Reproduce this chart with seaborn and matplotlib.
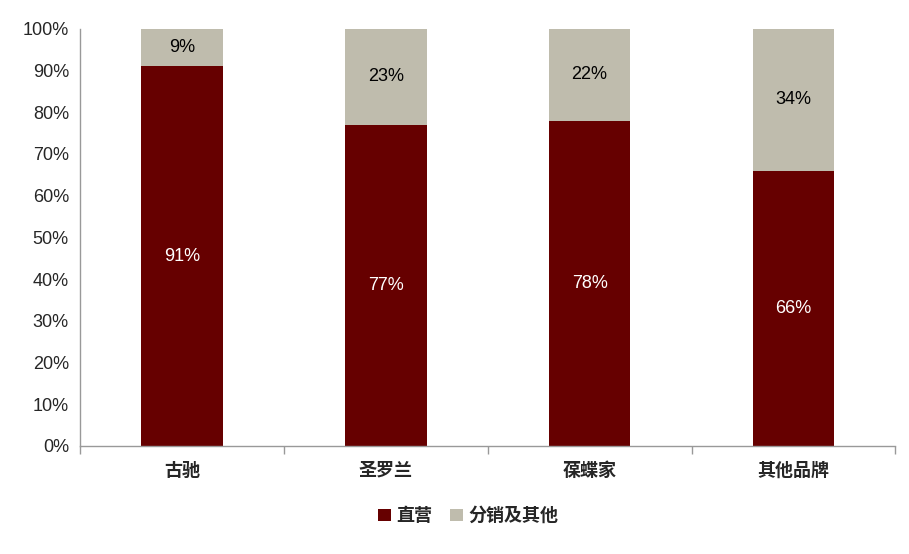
import pandas as pd
import seaborn as sns
import matplotlib.pyplot as plt

brands = ["古驰", "圣罗兰", "葆蝶家", "其他品牌"]
direct = [91, 77, 78, 66]
other = [9, 23, 22, 34]
series_names = ["直营", "分销及其他"]

RED = "#660000"
GRAY = "#BFBCAD"

sns.set_theme(style="white")
plt.rcParams["font.family"] = ["Liberation Sans", "Noto Sans CJK SC", "DejaVu Sans"]

df = pd.DataFrame({"brand": brands, "direct": direct, "other": other})
df["total"] = df["direct"] + df["other"]

fig = plt.figure(figsize=(9.09, 5.54), dpi=100)
ax = fig.add_axes([0.088, 0.195, 0.897, 0.753])

sns.barplot(data=df, x="brand", y="total", color=GRAY, width=0.4,
            saturation=1, ax=ax, label=series_names[1], linewidth=0)
sns.barplot(data=df, x="brand", y="direct", color=RED, width=0.4,
            saturation=1, ax=ax, label=series_names[0], linewidth=0)
handles, labels = ax.get_legend_handles_labels()
if ax.get_legend() is not None:
    ax.get_legend().remove()

for i, row in df.iterrows():
    ax.text(i, row["direct"] / 2, f"{row['direct']}%", ha="center", va="center",
            color="white", fontsize=13)
    ax.text(i, row["direct"] + row["other"] / 2, f"{row['other']}%", ha="center",
            va="center", color="black", fontsize=13)

ax.set_ylim(0, 100)
ax.set_xlim(-0.5, 3.5)
ax.set_yticks(range(0, 101, 10))
ax.set_yticklabels([f"{v}%" for v in range(0, 101, 10)], fontsize=13)
ax.set_xticks(range(len(brands)))
ax.set_xticklabels(brands, fontsize=13, fontweight="bold")
ax.set_xticks([-0.5, 0.5, 1.5, 2.5, 3.5], minor=True)
ax.tick_params(axis="x", which="major", length=0, pad=12)
ax.tick_params(axis="x", which="minor", length=6, color="#999999", direction="out", bottom=True)
ax.tick_params(axis="y", length=0, pad=8)
ax.set_xlabel("")
ax.set_ylabel("")

for side in ["top", "right"]:
    ax.spines[side].set_visible(False)
for side in ["left", "bottom"]:
    ax.spines[side].set_color("#999999")
    ax.spines[side].set_linewidth(1)

order = [labels.index(n) for n in series_names]
fig.legend([handles[k] for k in order], [labels[k] for k in order],
           loc="center", bbox_to_anchor=(0.515, 0.068), ncol=2, frameon=False,
           handlelength=0.7, handleheight=0.7, handletextpad=0.3,
           columnspacing=1.0, prop={"weight": "bold", "size": 13})

fig.savefig("out.png", dpi=100)
